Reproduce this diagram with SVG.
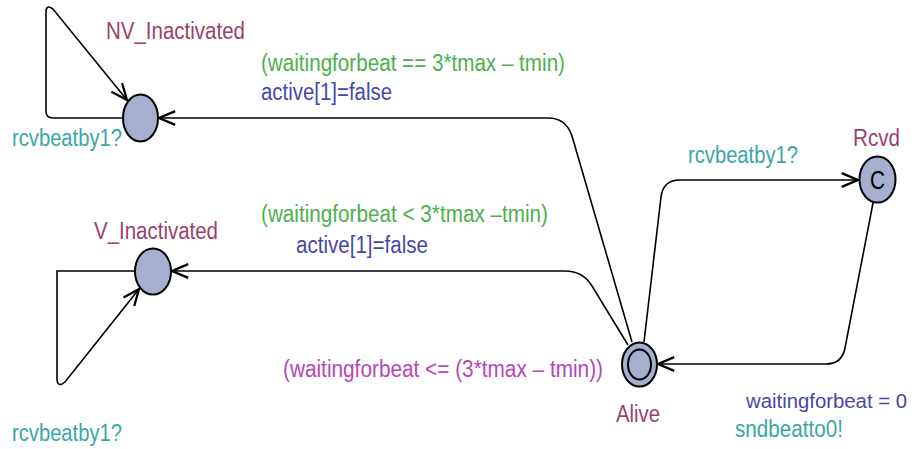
<svg xmlns="http://www.w3.org/2000/svg" width="914" height="449" viewBox="0 0 914 449">
<style>
text{font-family:"Liberation Sans",Arial,sans-serif;font-size:23px}
.nm{fill:#9c3f6b}.gd{fill:#4cb04c}.as{fill:#4646ac}.sy{fill:#3aa6a6}.iv{fill:#b548b5}
.loc{fill:#a7afd0;stroke:#000;stroke-width:2}
.e{fill:none;stroke:#000;stroke-width:1.6}
</style>
<defs>
<marker id="ah" markerUnits="userSpaceOnUse" markerWidth="20" markerHeight="20" refX="0" refY="0" viewBox="-14 -8 16 16" orient="auto" overflow="visible">
<path d="M-13,-5.5 L0,0 L-13,5.5" fill="none" stroke="#000" stroke-width="1.8"/>
</marker>
</defs>
<g id="connectors">
<path class="e" d="M123,118 L53,118 Q46,118 46,111 L46,12 Q46,4 53,9 L127,100" marker-end="url(#ah)"/>
<path class="e" d="M135,271 L57,271 L57,380 Q58,388 65,382 L139,289" marker-end="url(#ah)"/>
<path class="e" d="M632,342 L572,136 Q566,118 548,118 L159,118" marker-end="url(#ah)"/>
<path class="e" d="M628,345 L592,286 Q583,271 565,271 L172,271" marker-end="url(#ah)"/>
<path class="e" d="M644,342 L661,197 Q663,180 680,180 L858,180" marker-end="url(#ah)"/>
<path class="e" d="M873,203 L845,348 Q842,364 826,364 L658,364" marker-end="url(#ah)"/>
</g>
<g id="NV_Inactivated">
<ellipse class="loc" cx="140.5" cy="118" rx="17.5" ry="23.5"/>
<text class="nm" x="106" y="39" textLength="139" lengthAdjust="spacingAndGlyphs">NV_Inactivated</text>
</g>
<g id="V_Inactivated">
<ellipse class="loc" cx="153" cy="271.5" rx="18" ry="23"/>
<text class="nm" x="94" y="239" textLength="124" lengthAdjust="spacingAndGlyphs">V_Inactivated</text>
</g>
<g id="Alive">
<ellipse class="loc" cx="639.5" cy="364.5" rx="17.5" ry="22"/>
<ellipse cx="639.5" cy="364.5" rx="11.5" ry="15" fill="none" stroke="#000" stroke-width="2"/>
<text class="nm" x="616" y="422" textLength="44" lengthAdjust="spacingAndGlyphs">Alive</text>
</g>
<g id="Rcvd">
<ellipse class="loc" cx="877.5" cy="179.5" rx="18" ry="23"/>
<text x="877.5" y="189" text-anchor="middle" style="font-size:26px" fill="#000" textLength="15" lengthAdjust="spacingAndGlyphs">C</text>
<text class="nm" x="853" y="146" textLength="47" lengthAdjust="spacingAndGlyphs">Rcvd</text>
</g>
<g id="labels">
<text class="sy" x="12" y="146" textLength="110" lengthAdjust="spacingAndGlyphs">rcvbeatby1?</text>
<text class="sy" x="12" y="441" textLength="110" lengthAdjust="spacingAndGlyphs">rcvbeatby1?</text>
<text class="gd" x="261" y="71" textLength="304" lengthAdjust="spacingAndGlyphs">(waitingforbeat == 3*tmax – tmin)</text>
<text class="as" x="261" y="100" textLength="131" lengthAdjust="spacingAndGlyphs">active[1]=false</text>
<text class="gd" x="261" y="222" textLength="287" lengthAdjust="spacingAndGlyphs">(waitingforbeat &lt; 3*tmax –tmin)</text>
<text class="as" x="296" y="253" textLength="132" lengthAdjust="spacingAndGlyphs">active[1]=false</text>
<text class="iv" x="283" y="377" textLength="320" lengthAdjust="spacingAndGlyphs">(waitingforbeat &lt;= (3*tmax – tmin))</text>
<text class="sy" x="688" y="163" textLength="110" lengthAdjust="spacingAndGlyphs">rcvbeatby1?</text>
<text class="as" x="746" y="408" style="font-size:20.5px" textLength="161" lengthAdjust="spacingAndGlyphs">waitingforbeat = 0</text>
<text class="sy" x="735" y="437" textLength="108" lengthAdjust="spacingAndGlyphs">sndbeatto0!</text>
</g>
</svg>
